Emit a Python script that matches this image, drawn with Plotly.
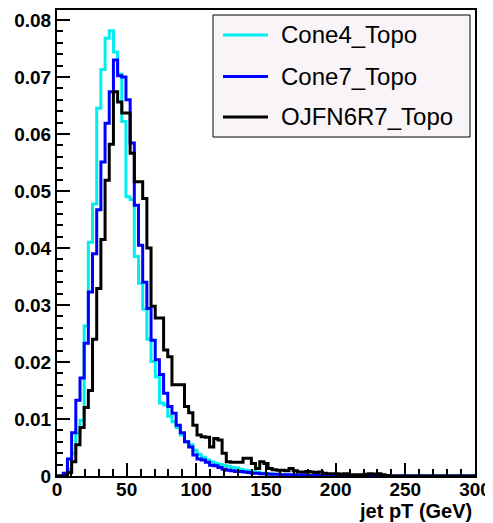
import plotly.graph_objects as go

# ---------------- data (3 GeV bins) ----------------
pt_centers = list(range(0, 301, 3))  # bin centres in GeV

cone4_topo = [
    0, 0, 0.0002, 0.0012, 0.0040, 0.0075, 0.0098, 0.0263, 0.0410, 0.0477,
    0.0645, 0.0713, 0.0768, 0.0781, 0.0744, 0.0705, 0.0622, 0.0490, 0.0485, 0.0385,
    0.0338, 0.0293, 0.0240, 0.0201, 0.0174, 0.0128, 0.0125, 0.0105, 0.0095, 0.0085,
    0.0072, 0.0060, 0.0055, 0.0045, 0.0038, 0.0033, 0.0028, 0.0025, 0.0022, 0.0020,
    0.0019, 0.0017, 0.0015, 0.0014, 0.0012, 0.0010, 0.0009, 0.0008, 0.0006, 0.0005,
    0.0004, 0.0004, 0.0003, 0.0003, 0.0002, 0.0002, 0.0002, 0.0001, 0.0001, 0.0001,
    0.0001, 0.0001, 0, 0, 0, 0, 0, 0, 0, 0,
    0, 0, 0, 0, 0, 0, 0, 0, 0, 0,
    0, 0, 0, 0, 0, 0, 0, 0, 0, 0,
    0, 0, 0, 0, 0, 0, 0, 0, 0, 0, 0,
]

cone7_topo = [
    0, 0, 0.0005, 0.0030, 0.0076, 0.0133, 0.0172, 0.0233, 0.0323, 0.0390,
    0.0467, 0.0551, 0.0619, 0.0674, 0.0730, 0.0702, 0.0700, 0.0660, 0.0584, 0.0475,
    0.0405, 0.0340, 0.0294, 0.0238, 0.0204, 0.0178, 0.0145, 0.0122, 0.0110, 0.0089,
    0.0076, 0.0060, 0.0051, 0.0037, 0.0030, 0.0028, 0.0024, 0.0019, 0.0018, 0.0015,
    0.0012, 0.0010, 0.0009, 0.0008, 0.0008, 0.0007, 0.0006, 0.0005, 0.0005, 0.0004,
    0.0004, 0.0003, 0.0003, 0.0003, 0.0002, 0.0002, 0.0002, 0.0002, 0.0001, 0.0002,
    0.0001, 0.0001, 0.0001, 0.0001, 0, 0, 0, 0, 0, 0,
    0, 0, 0, 0, 0, 0, 0, 0, 0, 0,
    0, 0, 0, 0, 0, 0, 0, 0, 0, 0,
    0, 0, 0, 0, 0, 0, 0, 0, 0, 0, 0,
]

ojfn6r7_topo = [
    0, 0, 0, 0.0006, 0.0025, 0.0055, 0.0085, 0.0120, 0.0150, 0.0240,
    0.0329, 0.0415, 0.0519, 0.0582, 0.0674, 0.0656, 0.0637, 0.0637, 0.0566, 0.0516,
    0.0516, 0.0487, 0.0400, 0.0298, 0.0277, 0.0277, 0.0221, 0.0209, 0.0160, 0.0160,
    0.0160, 0.0122, 0.0111, 0.0089, 0.0072, 0.0069, 0.0068, 0.0051, 0.0066, 0.0063,
    0.0040, 0.0025, 0.0024, 0.0024, 0.0024, 0.0031, 0.0031, 0.0022, 0.0013, 0.0025,
    0.0022, 0.0013, 0.0011, 0.0010, 0.0010, 0.0009, 0.0013, 0.0009, 0.0007, 0.0007,
    0.0008, 0.0007, 0.0006, 0.0007, 0.0005, 0.0004, 0.0004, 0.0004, 0.0003, 0.0004,
    0.0002, 0.0002, 0.0002, 0.0002, 0.0003, 0.0004, 0.0003, 0.0004, 0.0002, 0.0001,
    0, 0, 0, 0, 0, 0, 0, 0, 0, 0,
    0, 0, 0, 0, 0, 0, 0, 0, 0, 0, 0,
]

series_names = ["Cone4_Topo", "Cone7_Topo", "OJFN6R7_Topo"]
series_values = [cone4_topo, cone7_topo, ojfn6r7_topo]
series_colors = ["#00eeee", "#0000ff", "#000000"]

x_tick_vals = [0, 50, 100, 150, 200, 250, 300]
x_tick_text = ["0", "50", "100", "150", "200", "250", "300"]
y_tick_vals = [0, 0.01, 0.02, 0.03, 0.04, 0.05, 0.06, 0.07, 0.08]
y_tick_text = ["0", "0.01", "0.02", "0.03", "0.04", "0.05", "0.06", "0.07", "0.08"]

# ---------------- geometry (pixels, in the 493x523 window) ----------------
OFF = 8                     # default page body margin the figure div sits in
WIN_W, WIN_H = 493, 523
W, H = WIN_W - OFF, WIN_H - OFF
PL, PR, PT, PB = 57 - OFF, 475 - OFF, 10 - OFF, 476 - OFF


def px_x(px):
    """window pixel x -> paper coordinate"""
    return (px - OFF - PL) / (PR - PL)


def px_y(py):
    """window pixel y -> paper coordinate"""
    return (PB - (py - OFF)) / (PB - PT)


FONT = "Liberation Sans, Arial, Helvetica, sans-serif"

fig = go.Figure()
for name, vals, col in zip(series_names, series_values, series_colors):
    fig.add_trace(go.Scatter(
        x=pt_centers, y=vals, name=name, mode="lines",
        line=dict(color=col, width=3, shape="hvh"),
        showlegend=False, hoverinfo="skip",
    ))

axis_common = dict(
    showline=True, linewidth=2, linecolor="black", mirror=True,
    showgrid=False, zeroline=False,
    ticks="inside", ticklen=13, tickwidth=2, tickcolor="black",
    tickmode="array", automargin=False,
    tickfont=dict(family=FONT, size=19, color="black", weight="bold"),
)

fig.update_xaxes(
    range=[0, 300], tickvals=x_tick_vals, ticktext=x_tick_text,
    ticklabelstandoff=-5,
    minor=dict(ticks="inside", ticklen=7, tickwidth=2, tickcolor="black",
               dtick=10, tick0=0, showgrid=False),
    **axis_common,
)
fig.update_yaxes(
    range=[0, 0.08175], tickvals=y_tick_vals, ticktext=y_tick_text,
    minor=dict(ticks="inside", ticklen=6, tickwidth=2, tickcolor="black",
               dtick=0.002, tick0=0, showgrid=False),
    **axis_common,
)

shapes = [dict(
    type="rect", xref="paper", yref="paper",
    x0=px_x(213), x1=px_x(470), y0=px_y(137), y1=px_y(15),
    fillcolor="#f8f4f8", line=dict(color="black", width=1), layer="above",
)]
annotations = []
legend_rows = [35, 76.5, 117]
for name, col, ry in zip(series_names, series_colors, legend_rows):
    shapes.append(dict(
        type="line", xref="paper", yref="paper",
        x0=px_x(223), x1=px_x(268), y0=px_y(ry), y1=px_y(ry),
        line=dict(color=col, width=3), layer="above",
    ))
    annotations.append(dict(
        xref="paper", yref="paper", x=px_x(279), y=px_y(ry),
        xanchor="left", yanchor="middle", showarrow=False, text=name,
        font=dict(family=FONT, size=24, color="black"),
    ))

annotations.append(dict(
    xref="paper", yref="paper", x=px_x(474), y=px_y(511),
    xanchor="right", yanchor="middle", showarrow=False, text="jet pT (GeV)",
    font=dict(family=FONT, size=20, color="black", weight="bold"),
))

fig.update_layout(
    width=W, height=H,
    margin=dict(l=PL, r=W - PR, t=PT, b=H - PB, pad=0),
    paper_bgcolor="white", plot_bgcolor="white",
    showlegend=False,
    shapes=shapes, annotations=annotations,
)

fig.write_html("out.html")
